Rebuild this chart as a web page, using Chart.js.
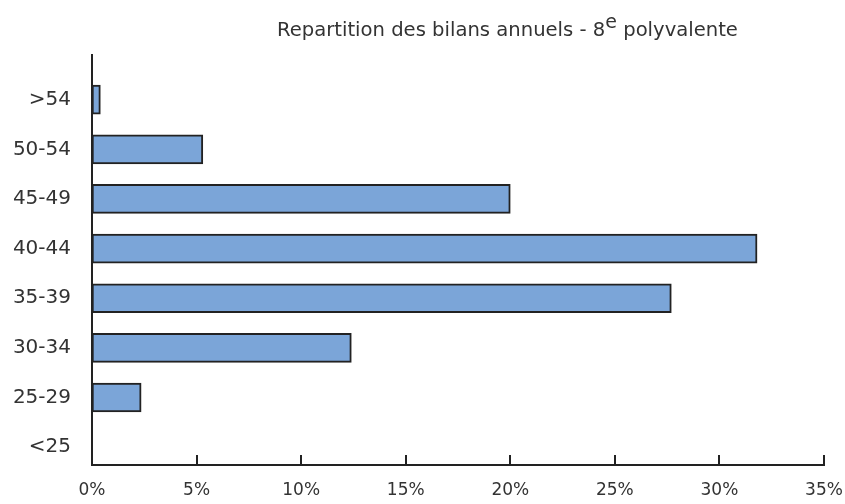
<!DOCTYPE html>
<html>
<head>
<meta charset="utf-8">
<script src="https://cdn.jsdelivr.net/npm/chart.js@4.4.0/dist/chart.umd.min.js"></script>
<style>
  html, body { margin: 0; padding: 0; background: #fff; }
  #wrap { position: relative; width: 845px; height: 504px; }
  #title {
    position: absolute; left: 277px; top: 18px;
    font-family: 'DejaVu Sans', sans-serif; font-size: 19.6px; color: #333;
    white-space: nowrap; line-height: 24px;
  }
  #title sup { font-size: 19px; vertical-align: 8px; line-height: 0; }
</style>
</head>
<body>
<div id="wrap">
  <div id="title">Repartition des bilans annuels - 8<sup>e</sup> polyvalente</div>
  <canvas id="myChart" width="845" height="504"></canvas>
</div>
<script>
'use strict';

// bottom to top
let categories = ['<25', '25-29', '30-34', '35-39', '40-44', '45-49', '50-54', '>54'];
let shares = [0, 2.35, 12.4, 27.7, 31.8, 20.0, 5.3, 0.4];
let xTicks = [0, 5, 10, 15, 20, 25, 30, 35];

let textColor = '#333';
let lineColor = '#222';

let points = [];
for (let i = 0; i < categories.length; i++) {
  points.push({ y: i, x: shares[i] });
}

// small tick marks pointing up into the plot
const innerTicks = {
  id: 'innerTicks',
  afterDraw(chart) {
    let ctx = chart.ctx;
    let xs = chart.scales.x;
    ctx.save();
    ctx.strokeStyle = lineColor;
    ctx.lineWidth = 2;
    for (let i = 1; i < xTicks.length; i++) {
      let px = Math.round(xs.getPixelForValue(xTicks[i]));
      ctx.beginPath();
      ctx.moveTo(px, xs.top);
      ctx.lineTo(px, xs.top - 10);
      ctx.stroke();
    }
    ctx.restore();
  }
};

const data = {
  datasets: [{
    data: points,
    backgroundColor: '#7ba5d8',
    borderColor: lineColor,
    borderWidth: 2,
    borderSkipped: false,
    barThickness: 29
  }]
};

const config = {
  type: 'bar',
  data: data,
  options: {
    indexAxis: 'y',
    responsive: false,
    animation: false,
    layout: { padding: { top: 55, right: 21, left: 0, bottom: 0 } },
    plugins: {
      legend: { display: false },
      tooltip: { enabled: false }
    },
    scales: {
      x: {
        type: 'linear',
        min: 0,
        max: 35,
        afterBuildTicks: (scale) => { scale.ticks = xTicks.map(v => ({ value: v })); },
        afterFit: (scale) => {
          scale.height = 39;
          scale.paddingRight = 0;
          scale.paddingLeft = 0;
        },
        grid: { display: false, drawTicks: false },
        border: { color: lineColor, width: 2 },
        ticks: {
          padding: 15,
          color: textColor,
          font: { family: 'DejaVu Sans', size: 17 },
          maxRotation: 0,
          callback: (v) => v + '%'
        }
      },
      y: {
        type: 'linear',
        offset: false,
        min: -0.36,
        max: 7.9,
        afterBuildTicks: (scale) => { scale.ticks = categories.map((c, i) => ({ value: i })); },
        afterFit: (scale) => { scale.width = 92; },
        grid: { display: false, drawTicks: false },
        border: { color: lineColor, width: 2 },
        ticks: {
          padding: 21,
          color: textColor,
          font: { family: 'DejaVu Sans', size: 20 },
          callback: (v) => categories[v]
        }
      }
    }
  },
  plugins: [innerTicks]
};

const myChart = new Chart(document.getElementById('myChart'), config);
</script>
</body>
</html>
